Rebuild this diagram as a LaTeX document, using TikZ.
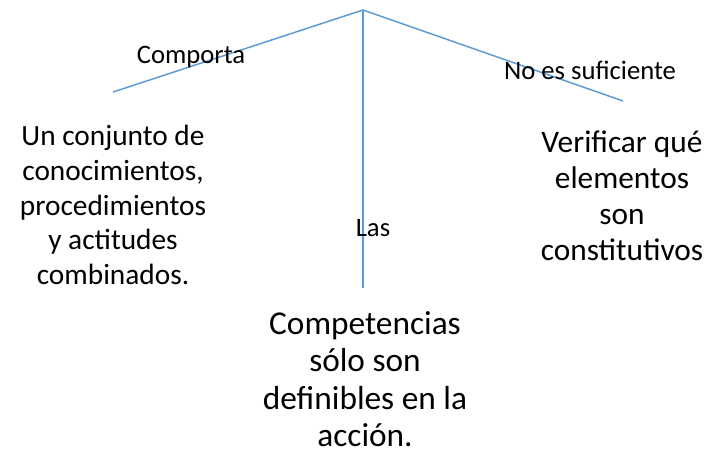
\documentclass[tikz,border=0pt]{standalone}
\usepackage{fontspec}
\setmainfont{Carlito}
\definecolor{linkblue}{RGB}{91,155,213}
\begin{document}
\begin{tikzpicture}[x=0.75pt,y=-0.75pt,
  link/.style={draw=linkblue,line width=1.1pt},
  lbl/.style={inner sep=0pt,font=\fontsize{20}{23}\selectfont},
  leftbox/.style={inner sep=0pt,align=center,font=\fontsize{22}{26}\selectfont},
  rightbox/.style={inner sep=0pt,align=center,font=\fontsize{23.5}{27}\selectfont},
  bottombox/.style={inner sep=0pt,align=center,font=\fontsize{25}{28}\selectfont}]
\useasboundingbox (0,0) rectangle (710,452);
\fill[white] (0,0) rectangle (710,452);
\coordinate (apex) at (363,10);
\coordinate (lend) at (113,92);
\coordinate (rend) at (623,101);
\coordinate (bend) at (363,288);
\draw[link] (apex) -- (lend);
\draw[link] (apex) -- (rend);
\draw[link] (apex) -- (bend);
\node[lbl] (comporta) at (191,57) {Comporta};
\node[lbl] (noes) at (590,70) {No es suficiente};
\node[lbl] (las) at (373,228) {Las};
\node[leftbox] (left) at (113,205) {Un conjunto de\\conocimientos,\\procedimientos\\y actitudes\\combinados.};
\node[rightbox] (right) at (622,196) {Verificar qué\\elementos\\son\\constitutivos};
\node[bottombox] (bottom) at (365,379) {Competencias\\sólo son\\definibles en la\\acción.};
\end{tikzpicture}
\end{document}
